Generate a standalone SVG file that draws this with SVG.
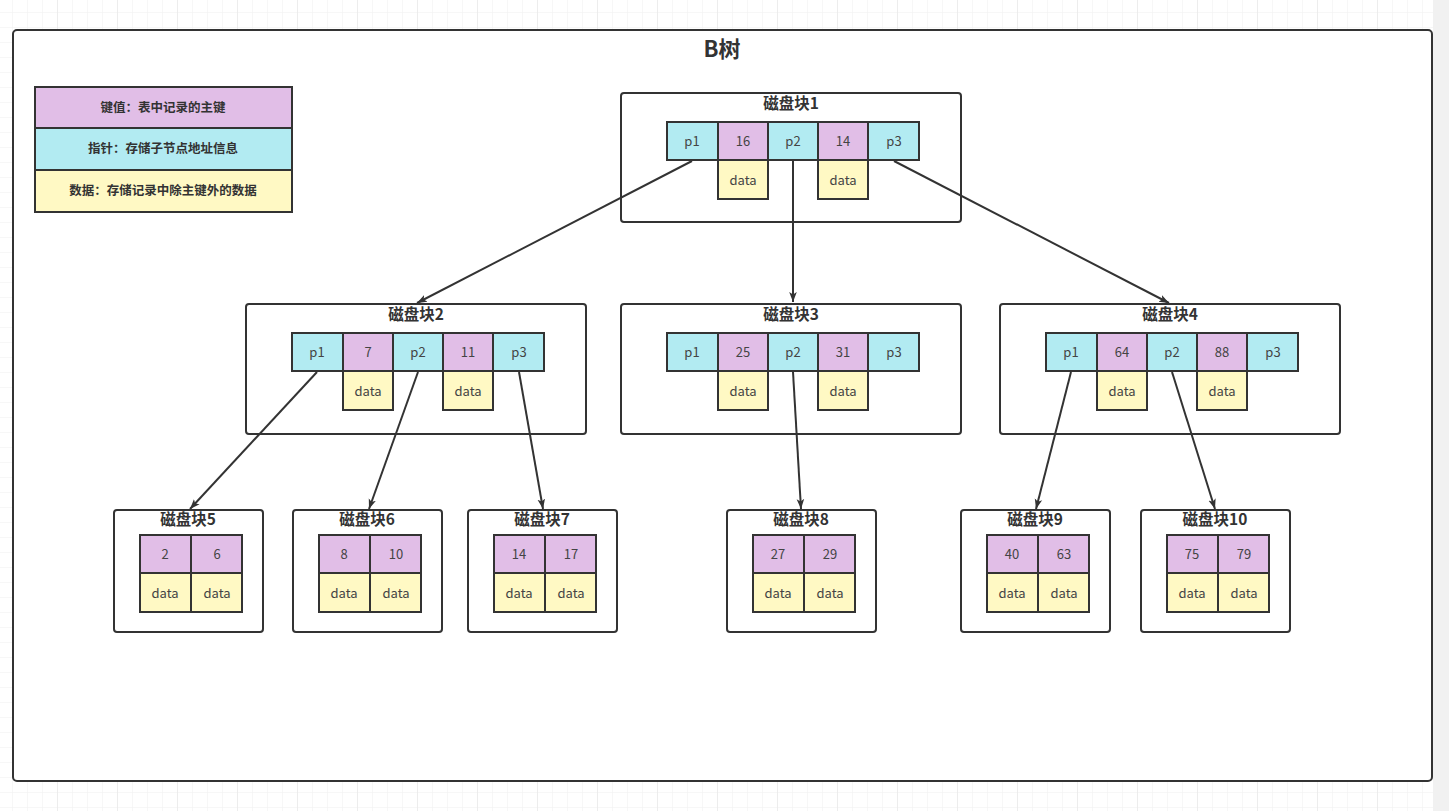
<svg xmlns="http://www.w3.org/2000/svg" width="1449" height="811" viewBox="0 0 1449 811">
<defs>
<pattern id="gmin" x="12" y="12" width="15" height="15" patternUnits="userSpaceOnUse"><path d="M0 0H15M0 0V15" fill="none" stroke="#efefef" stroke-width="1"/></pattern>
<pattern id="gmaj" x="57" y="12" width="60" height="60" patternUnits="userSpaceOnUse"><path d="M0 0V60" fill="none" stroke="#e4e4e4" stroke-width="1"/></pattern>
<marker id="ah" viewBox="0 0 10 10" refX="10" refY="5" markerWidth="10" markerHeight="10" markerUnits="userSpaceOnUse" orient="auto"><path d="M0 1.2L10 5L0 8.8L2.5 5Z" fill="#333"/></marker>
<style>
.blk{fill:#fff;stroke:#333;stroke-width:2}
.k{fill:#E1BEE7;stroke:#333;stroke-width:2}
.p{fill:#B2EBF2;stroke:#333;stroke-width:2}
.d{fill:#FFF9C4;stroke:#333;stroke-width:2}
text{font-family:"Noto Sans CJK SC","Microsoft YaHei",sans-serif;fill:#333;text-anchor:middle}
.t{font-size:15.5px;font-weight:bold}
.c{font-size:13px;fill:#444}
.lg{font-size:12.5px;font-weight:bold}
.e{fill:none;stroke:#333;stroke-width:2;marker-end:url(#ah)}
</style>
</defs>
<rect x="0" y="0" width="1449" height="811" fill="#fff"/>
<rect x="0" y="0" width="1449" height="811" fill="url(#gmin)"/>
<rect x="0" y="0" width="1449" height="811" fill="url(#gmaj)"/>
<rect x="1433" y="0" width="16" height="811" fill="#f1f1f1"/>

<g id="frame">
<rect x="13" y="30" width="1419" height="751" rx="4" class="blk"/>
<text x="722" y="57" style="font-size:22px;font-weight:bold">B树</text>
</g>

<g id="legend">
<rect x="35" y="87" width="257" height="41" class="k"/>
<rect x="35" y="128" width="257" height="42" class="p"/>
<rect x="35" y="170" width="257" height="42" class="d"/>
<text x="163" y="112" class="lg">键值：表中记录的主键</text>
<text x="163" y="153" class="lg">指针：存储子节点地址信息</text>
<text x="163" y="195" class="lg">数据：存储记录中除主键外的数据</text>
</g>

<g id="block1">
<rect x="621" y="93" width="340" height="129" rx="3" class="blk"/>
<text x="791" y="109" class="t">磁盘块1</text>
<rect x="667" y="122" width="51" height="38" class="p"/><text x="692" y="146" class="c">p1</text>
<rect x="718" y="122" width="50" height="38" class="k"/><text x="743" y="146" class="c">16</text>
<rect x="768" y="122" width="50" height="38" class="p"/><text x="793" y="146" class="c">p2</text>
<rect x="818" y="122" width="50" height="38" class="k"/><text x="843" y="146" class="c">14</text>
<rect x="868" y="122" width="51" height="38" class="p"/><text x="894" y="146" class="c">p3</text>
<rect x="718" y="160" width="50" height="39" class="d"/><text x="743" y="185" class="c">data</text>
<rect x="818" y="160" width="50" height="39" class="d"/><text x="843" y="185" class="c">data</text>
</g>

<g id="block2">
<rect x="246" y="304" width="340" height="130" rx="3" class="blk"/>
<text x="416" y="320" class="t">磁盘块2</text>
<rect x="292" y="333" width="51" height="38" class="p"/><text x="317" y="357" class="c">p1</text>
<rect x="343" y="333" width="50" height="38" class="k"/><text x="368" y="357" class="c">7</text>
<rect x="393" y="333" width="50" height="38" class="p"/><text x="418" y="357" class="c">p2</text>
<rect x="443" y="333" width="50" height="38" class="k"/><text x="468" y="357" class="c">11</text>
<rect x="493" y="333" width="51" height="38" class="p"/><text x="519" y="357" class="c">p3</text>
<rect x="343" y="371" width="50" height="39" class="d"/><text x="368" y="396" class="c">data</text>
<rect x="443" y="371" width="50" height="39" class="d"/><text x="468" y="396" class="c">data</text>
</g>

<g id="block3">
<rect x="621" y="304" width="340" height="130" rx="3" class="blk"/>
<text x="791" y="320" class="t">磁盘块3</text>
<rect x="667" y="333" width="51" height="38" class="p"/><text x="692" y="357" class="c">p1</text>
<rect x="718" y="333" width="50" height="38" class="k"/><text x="743" y="357" class="c">25</text>
<rect x="768" y="333" width="50" height="38" class="p"/><text x="793" y="357" class="c">p2</text>
<rect x="818" y="333" width="50" height="38" class="k"/><text x="843" y="357" class="c">31</text>
<rect x="868" y="333" width="51" height="38" class="p"/><text x="894" y="357" class="c">p3</text>
<rect x="718" y="371" width="50" height="39" class="d"/><text x="743" y="396" class="c">data</text>
<rect x="818" y="371" width="50" height="39" class="d"/><text x="843" y="396" class="c">data</text>
</g>

<g id="block4">
<rect x="1000" y="304" width="340" height="130" rx="3" class="blk"/>
<text x="1170" y="320" class="t">磁盘块4</text>
<rect x="1046" y="333" width="51" height="38" class="p"/><text x="1071" y="357" class="c">p1</text>
<rect x="1097" y="333" width="50" height="38" class="k"/><text x="1122" y="357" class="c">64</text>
<rect x="1147" y="333" width="50" height="38" class="p"/><text x="1172" y="357" class="c">p2</text>
<rect x="1197" y="333" width="50" height="38" class="k"/><text x="1222" y="357" class="c">88</text>
<rect x="1247" y="333" width="51" height="38" class="p"/><text x="1273" y="357" class="c">p3</text>
<rect x="1097" y="371" width="50" height="39" class="d"/><text x="1122" y="396" class="c">data</text>
<rect x="1197" y="371" width="50" height="39" class="d"/><text x="1222" y="396" class="c">data</text>
</g>

<g id="block5">
<rect x="114" y="510" width="149" height="122" rx="3" class="blk"/>
<text x="188" y="525" class="t">磁盘块5</text>
<rect x="140" y="535" width="51" height="38" class="k"/><text x="165" y="559" class="c">2</text>
<rect x="191" y="535" width="51" height="38" class="k"/><text x="217" y="559" class="c">6</text>
<rect x="140" y="573" width="51" height="39" class="d"/><text x="165" y="598" class="c">data</text>
<rect x="191" y="573" width="51" height="39" class="d"/><text x="217" y="598" class="c">data</text>
</g>

<g id="block6">
<rect x="293" y="510" width="149" height="122" rx="3" class="blk"/>
<text x="367" y="525" class="t">磁盘块6</text>
<rect x="319" y="535" width="51" height="38" class="k"/><text x="344" y="559" class="c">8</text>
<rect x="370" y="535" width="51" height="38" class="k"/><text x="396" y="559" class="c">10</text>
<rect x="319" y="573" width="51" height="39" class="d"/><text x="344" y="598" class="c">data</text>
<rect x="370" y="573" width="51" height="39" class="d"/><text x="396" y="598" class="c">data</text>
</g>

<g id="block7">
<rect x="468" y="510" width="149" height="122" rx="3" class="blk"/>
<text x="542" y="525" class="t">磁盘块7</text>
<rect x="494" y="535" width="51" height="38" class="k"/><text x="519" y="559" class="c">14</text>
<rect x="545" y="535" width="51" height="38" class="k"/><text x="571" y="559" class="c">17</text>
<rect x="494" y="573" width="51" height="39" class="d"/><text x="519" y="598" class="c">data</text>
<rect x="545" y="573" width="51" height="39" class="d"/><text x="571" y="598" class="c">data</text>
</g>

<g id="block8">
<rect x="727" y="510" width="149" height="122" rx="3" class="blk"/>
<text x="801" y="525" class="t">磁盘块8</text>
<rect x="753" y="535" width="51" height="38" class="k"/><text x="778" y="559" class="c">27</text>
<rect x="804" y="535" width="51" height="38" class="k"/><text x="830" y="559" class="c">29</text>
<rect x="753" y="573" width="51" height="39" class="d"/><text x="778" y="598" class="c">data</text>
<rect x="804" y="573" width="51" height="39" class="d"/><text x="830" y="598" class="c">data</text>
</g>

<g id="block9">
<rect x="961" y="510" width="149" height="122" rx="3" class="blk"/>
<text x="1035" y="525" class="t">磁盘块9</text>
<rect x="987" y="535" width="51" height="38" class="k"/><text x="1012" y="559" class="c">40</text>
<rect x="1038" y="535" width="51" height="38" class="k"/><text x="1064" y="559" class="c">63</text>
<rect x="987" y="573" width="51" height="39" class="d"/><text x="1012" y="598" class="c">data</text>
<rect x="1038" y="573" width="51" height="39" class="d"/><text x="1064" y="598" class="c">data</text>
</g>

<g id="block10">
<rect x="1141" y="510" width="149" height="122" rx="3" class="blk"/>
<text x="1215" y="525" class="t">磁盘块10</text>
<rect x="1167" y="535" width="51" height="38" class="k"/><text x="1192" y="559" class="c">75</text>
<rect x="1218" y="535" width="51" height="38" class="k"/><text x="1244" y="559" class="c">79</text>
<rect x="1167" y="573" width="51" height="39" class="d"/><text x="1192" y="598" class="c">data</text>
<rect x="1218" y="573" width="51" height="39" class="d"/><text x="1244" y="598" class="c">data</text>
</g>

<g id="connectors">
<line x1="692" y1="161" x2="417" y2="303" class="e"/>
<line x1="793" y1="161" x2="793" y2="302" class="e"/>
<line x1="894" y1="161" x2="1169" y2="303" class="e"/>
<line x1="317" y1="372" x2="190" y2="509" class="e"/>
<line x1="418" y1="372" x2="369" y2="509" class="e"/>
<line x1="519" y1="372" x2="543" y2="509" class="e"/>
<line x1="793" y1="372" x2="801" y2="509" class="e"/>
<line x1="1071" y1="372" x2="1036" y2="509" class="e"/>
<line x1="1172" y1="372" x2="1215" y2="509" class="e"/>
</g>
</svg>
